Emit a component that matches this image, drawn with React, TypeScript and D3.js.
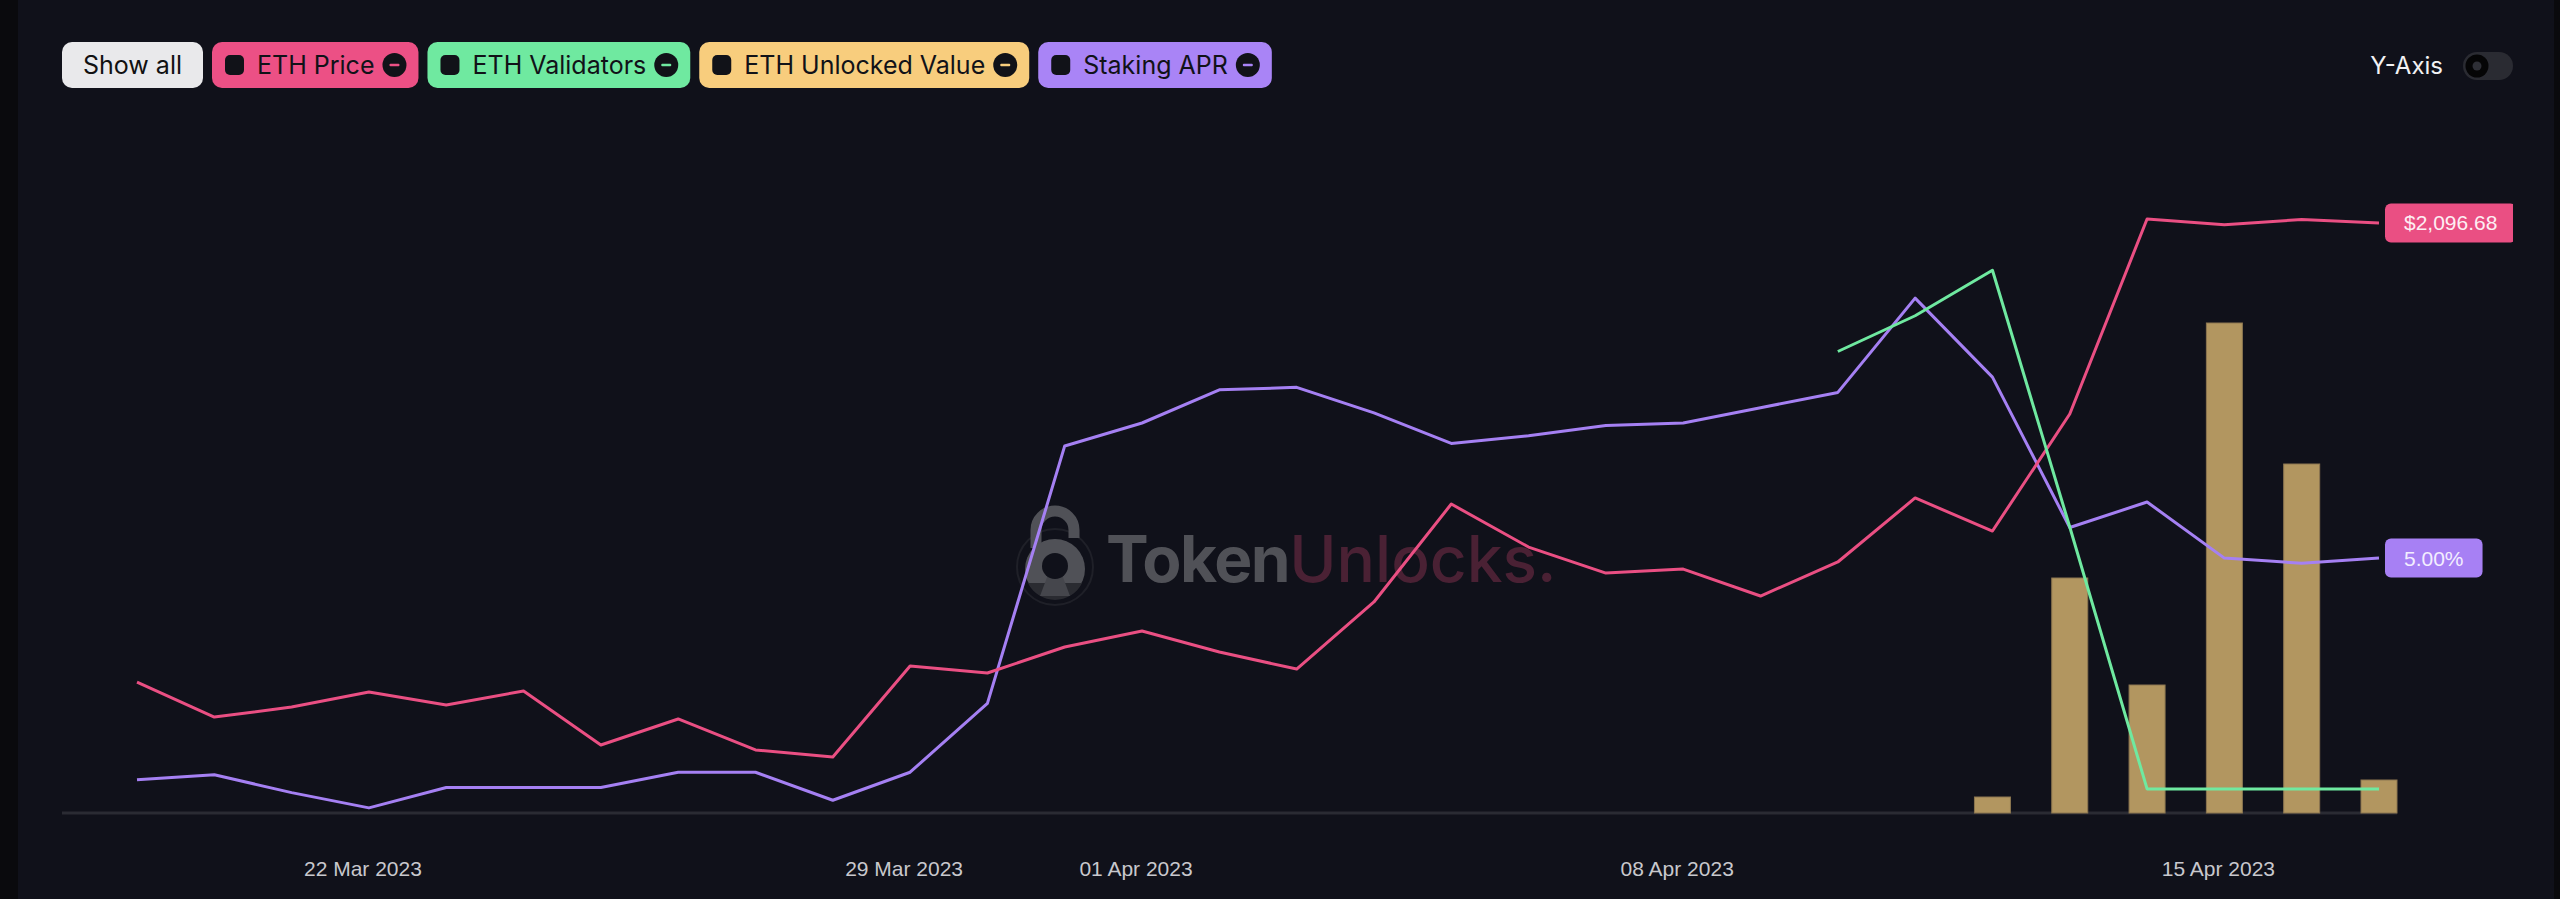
import * as d3 from 'd3';
import React, { useEffect, useRef } from 'react';

// one value per day, 19 Mar -> 17 Apr 2023
const dates = [
  '2023-03-19', '2023-03-20', '2023-03-21', '2023-03-22', '2023-03-23', '2023-03-24',
  '2023-03-25', '2023-03-26', '2023-03-27', '2023-03-28', '2023-03-29', '2023-03-30',
  '2023-03-31', '2023-04-01', '2023-04-02', '2023-04-03', '2023-04-04', '2023-04-05',
  '2023-04-06', '2023-04-07', '2023-04-08', '2023-04-09', '2023-04-10', '2023-04-11',
  '2023-04-12', '2023-04-13', '2023-04-14', '2023-04-15', '2023-04-16', '2023-04-17',
];

const ethPrice = [
  1764.7, 1739.4, 1746.6, 1757.5, 1748.1, 1758.2, 1719.2, 1738.0, 1715.6, 1710.5,
  1776.3, 1771.2, 1790.0, 1801.6, 1786.4, 1774.1, 1822.6, 1893.4, 1862.3, 1843.5,
  1846.4, 1826.9, 1851.5, 1897.8, 1873.9, 1958.5, 2099.5, 2095.3, 2099.2, 2096.68,
];

const ethValidators: (number | null)[] = [
  null, null, null, null, null, null, null, null, null, null,
  null, null, null, null, null, null, null, null, null, null,
  null, null, 14200, 15300, 16700, 8800, 740, 740, 740, 740,
];

// $M
const ethUnlockedValue: (number | null)[] = [
  null, null, null, null, null, null, null, null, null, null,
  null, null, null, null, null, null, null, null, null, null,
  null, null, null, null, 32, 470, 256, 980, 698, 66,
];

const stakingApr = [
  4.13, 4.15, 4.08, 4.02, 4.10, 4.10, 4.10, 4.16, 4.16, 4.05,
  4.16, 4.43, 5.44, 5.53, 5.66, 5.67, 5.57, 5.45, 5.48, 5.52,
  5.53, 5.59, 5.65, 6.02, 5.71, 5.12, 5.22, 5.00, 4.98, 5.00,
];

const tickDates = ['2023-03-22', '2023-03-29', '2023-04-01', '2023-04-08', '2023-04-15'];

const legendItems = [
  { name: 'ETH Price', color: '#ec5085' },
  { name: 'ETH Validators', color: '#6fe9a0' },
  { name: 'ETH Unlocked Value', color: '#f8cd7d' },
  { name: 'Staking APR', color: '#a984f6' },
];

function App() {
  const ref = useRef<HTMLDivElement>(null);

  useEffect(() => {
    document.body.style.margin = '0';
    document.body.style.background = '#0a0a0d';
    draw();
  });

  const draw = () => {
    const width = 2560;
    const height = 899;
    const baseY = 813;
    const topY = 163;
    const parse = d3.timeParse('%Y-%m-%d');
    const days = dates.map(d => parse(d) as Date);

    d3.select(ref.current).selectAll('svg').remove();

    const svg = d3.select(ref.current)
      .append('svg')
      .attr('width', width)
      .attr('height', height)
      .style('display', 'block');

    svg.append('defs').append('clipPath').attr('id', 'plotclip')
      .append('rect').attr('x', 0).attr('y', 0).attr('width', 2513).attr('height', height);

    svg.append('rect').attr('x', 18).attr('y', 0).attr('width', 2536).attr('height', height)
      .attr('fill', '#10111a');

    const x = d3.scaleTime().domain([days[0], days[days.length - 1]]).range([137, 2379]);
    const yPrice = d3.scaleLinear().domain([1670, 2140]).range([baseY, topY]);
    const yVal = d3.scaleLinear().domain([0, 20000]).range([baseY, topY]);
    const yUnlock = d3.scaleLinear().domain([0, 1300]).range([baseY, topY]);
    const yApr = d3.scaleLinear().domain([4, 6.55]).range([baseY, topY]);

    // watermark
    const wm = svg.append('g').attr('id', 'watermark');
    wm.append('circle').attr('cx', 1055).attr('cy', 567).attr('r', 38)
      .attr('fill', 'none').attr('stroke', '#1f2028').attr('stroke-width', 2);
    wm.append('path').attr('d', 'M1036,548 V530 A19,19 0 0 1 1074,530 V538')
      .attr('fill', 'none').attr('stroke', '#505157').attr('stroke-width', 11);
    wm.append('circle').attr('cx', 1055).attr('cy', 569).attr('r', 30).attr('fill', '#505157');
    wm.append('path').attr('d', 'M1028,583 A30,30 0 0 0 1082,583 Z').attr('fill', '#2a2b31');
    wm.append('path').attr('d', 'M1049,572 L1061,572 L1070,596 L1040,596 Z').attr('fill', '#45464c');
    wm.append('circle').attr('cx', 1055).attr('cy', 566).attr('r', 13).attr('fill', '#10111a');
    const wt = wm.append('text').attr('x', 1106).attr('y', 582)
      .style('font-family', 'Inter, sans-serif').style('font-size', '64px');
    wt.append('tspan').attr('fill', '#505157').attr('font-weight', 700).attr('letter-spacing', -1.5).text('Token');
    wt.append('tspan').attr('fill', '#4a2134').attr('font-weight', 500).text('Unlocks.');

    // axis line
    svg.append('line').attr('x1', 62).attr('x2', 2397).attr('y1', baseY).attr('y2', baseY)
      .attr('stroke', '#2a2b33').attr('stroke-width', 3);

    // bars
    svg.append('g').attr('id', 'bars')
      .selectAll('rect')
      .data(ethUnlockedValue.map((v, i) => ({ v, d: days[i] })).filter(e => e.v !== null))
      .enter()
      .append('rect')
      .attr('x', e => x(e.d) - 18)
      .attr('width', 36)
      .attr('y', e => yUnlock(e.v as number))
      .attr('height', e => baseY - yUnlock(e.v as number))
      .attr('fill', '#b29660')
      .attr('stroke', '#8c7650')
      .attr('stroke-width', 1);

    const lines = svg.append('g').attr('id', 'lines').attr('fill', 'none').attr('stroke-width', 3)
      .attr('stroke-linejoin', 'round');

    const mkLine = (vals: (number | null)[], y: d3.ScaleLinear<number, number>) =>
      d3.line<number | null>()
        .defined(v => v !== null)
        .x((_, i) => x(days[i]))
        .y(v => y(v as number))(vals);

    lines.append('path').attr('d', mkLine(stakingApr, yApr)).attr('stroke', '#a580f3');
    lines.append('path').attr('d', mkLine(ethPrice, yPrice)).attr('stroke', '#ea4f83');
    lines.append('path').attr('d', mkLine(ethValidators, yVal)).attr('stroke', '#6fe9a0');

    // last value labels
    const labels = svg.append('g').attr('clip-path', 'url(#plotclip)')
      .style('font-family', 'Arial, "Liberation Sans", sans-serif').style('font-size', '21px');
    const lastLabel = (txt: string, yy: number, bg: string, fg: string) => {
      const g = labels.append('g');
      const t = g.append('text').attr('y', yy).attr('dy', '0.36em').attr('fill', fg).text(txt);
      const tw = (t.node() as SVGTextElement).getComputedTextLength();
      const bx = x(days[days.length - 1]) + 6;
      g.insert('rect', 'text').attr('x', bx).attr('y', yy - 19.5).attr('width', tw + 38).attr('height', 39)
        .attr('rx', 6).attr('fill', bg);
      t.attr('x', bx + 19);
    };
    lastLabel('$' + d3.format(',.2f')(ethPrice[ethPrice.length - 1]), yPrice(ethPrice[ethPrice.length - 1]), '#ea4f83', '#fdeef3');
    lastLabel(d3.format('.2f')(stakingApr[stakingApr.length - 1]) + '%', yApr(stakingApr[stakingApr.length - 1]), '#a780f4', '#f3eeff');

    // x ticks
    const fmt = d3.timeFormat('%d %b %Y');
    svg.append('g').selectAll('text')
      .data(tickDates.map(d => parse(d) as Date))
      .enter()
      .append('text')
      .attr('x', d => x(d) - 6)
      .attr('y', 876)
      .attr('text-anchor', 'middle')
      .attr('fill', '#c8c8cd')
      .style('font-family', 'Arial, "Liberation Sans", sans-serif')
      .style('font-size', '21px')
      .text(d => fmt(d));

    // legend
    const legend = svg.append('g').style('font-family', 'Inter, sans-serif').style('font-size', '25px');
    let lx = 62;
    const ly = 42;
    const bh = 46;
    {
      const g = legend.append('g').attr('transform', `translate(${lx},${ly})`);
      const t = g.append('text').attr('x', 21).attr('y', bh / 2).attr('dy', '0.35em')
        .attr('fill', '#111111').text('Show all');
      const tw = (t.node() as SVGTextElement).getComputedTextLength();
      g.insert('rect', 'text').attr('width', tw + 42).attr('height', bh).attr('rx', 10).attr('fill', '#e9e9eb');
      lx += tw + 42 + 9;
    }
    legendItems.forEach(item => {
      const g = legend.append('g').attr('transform', `translate(${lx},${ly})`);
      const t = g.append('text').attr('x', 45).attr('y', bh / 2).attr('dy', '0.35em')
        .attr('fill', '#111218').text(item.name);
      const tw = (t.node() as SVGTextElement).getComputedTextLength();
      const w = tw + 89;
      g.insert('rect', 'text').attr('width', w).attr('height', bh).attr('rx', 10).attr('fill', item.color);
      g.append('rect').attr('x', 13).attr('y', 13).attr('width', 19).attr('height', 20).attr('rx', 5)
        .attr('fill', '#111218');
      g.append('circle').attr('cx', w - 24).attr('cy', bh / 2).attr('r', 12).attr('fill', '#111218');
      g.append('rect').attr('x', w - 29).attr('y', bh / 2 - 1.25).attr('width', 10).attr('height', 2.5)
        .attr('rx', 1).attr('fill', item.color);
      lx += w + 9;
    });

    // y-axis toggle
    svg.append('text').attr('x', 2443).attr('y', 66).attr('dy', '0.35em').attr('text-anchor', 'end')
      .attr('fill', '#f2f2f4').style('font-family', 'Inter, sans-serif').style('font-size', '24px')
      .text('Y-Axis');
    svg.append('rect').attr('x', 2463).attr('y', 52).attr('width', 50).attr('height', 28).attr('rx', 14)
      .attr('fill', '#2a2b32');
    svg.append('circle').attr('cx', 2477).attr('cy', 66).attr('r', 11.5).attr('fill', '#050506');
    svg.append('circle').attr('cx', 2477).attr('cy', 66).attr('r', 4.5).attr('fill', '#2e2f36');
  };

  return <div ref={ref}></div>;
}

export default App;
